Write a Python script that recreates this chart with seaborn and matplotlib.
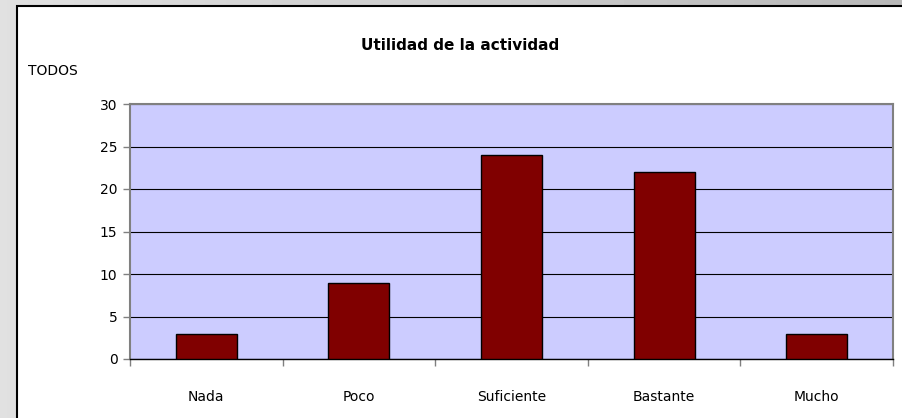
import matplotlib
matplotlib.use("Agg")
import matplotlib.pyplot as plt
import seaborn as sns
import numpy as np
import pandas as pd
from matplotlib.patches import Rectangle

categories = ["Nada", "Poco", "Suficiente", "Bastante", "Mucho"]
counts = [3, 9, 24, 22, 3]
y_ticks = [0, 5, 10, 15, 20, 25, 30]

df = pd.DataFrame({"Respuesta": categories, "Total": counts})

sns.set_theme(style="white")
plt.rcParams["font.family"] = ["DejaVu Sans"]
plt.rcParams["text.color"] = "black"
plt.rcParams["xtick.labelcolor"] = "black"
plt.rcParams["ytick.labelcolor"] = "black"

fig = plt.figure(figsize=(9.03, 4.18), dpi=100)

# gray gradient frame behind the white chart area
bg = fig.add_axes([0, 0, 1, 1], zorder=0)
grad = np.linspace(0.88, 0.72, 256).reshape(1, -1)
bg.imshow(grad, aspect="auto", cmap="gray", vmin=0, vmax=1, extent=[0, 1, 0, 1])
bg.add_patch(Rectangle((17 / 903, -0.1), 1.0, 1 - 6 / 418 + 0.1,
                       facecolor="white", edgecolor="black", linewidth=1.5))
bg.set_xlim(0, 1)
bg.set_ylim(0, 1)
bg.axis("off")

ax = fig.add_axes([130 / 903, 1 - 359 / 418, (893 - 130) / 903, (359 - 104) / 418], zorder=1)
ax.set_facecolor("#CCCCFF")
sns.barplot(data=df, x="Respuesta", y="Total", color="#800000", width=0.4,
            edgecolor="black", linewidth=1, saturation=1, ax=ax, zorder=3)

ax.set_xlim(-0.5, 4.5)
ax.set_ylim(0, 30)
ax.set_yticks(y_ticks)
ax.yaxis.grid(True, color="black", linewidth=0.8)
ax.set_axisbelow(True)
ax.tick_params(axis="y", which="major", length=5, width=1, color="#808080",
               labelcolor="black", direction="out", left=True, labelsize=10, pad=4)
ax.tick_params(axis="x", which="major", length=0, labelsize=10, pad=22, labelcolor="black")
ax.set_xticks(np.arange(-0.5, 5.0, 1.0), minor=True)
ax.tick_params(axis="x", which="minor", length=5, width=1, color="#808080",
               direction="out", bottom=True)
ax.set_xlabel("")
ax.set_ylabel("")
for side in ["left", "bottom", "top", "right"]:
    ax.spines[side].set_visible(True)
    ax.spines[side].set_color("#808080")
    ax.spines[side].set_linewidth(1.5)
ax.spines["bottom"].set_color("black")
ax.spines["bottom"].set_linewidth(1)

fig.text(460 / 903, 1 - 45 / 418, "Utilidad de la actividad", ha="center", va="center",
         fontsize=11, fontweight="bold", color="black")
fig.text(28 / 903, 1 - 71 / 418, "TODOS", ha="left", va="center", fontsize=10, color="black")

fig.savefig("out.png", dpi=100)
